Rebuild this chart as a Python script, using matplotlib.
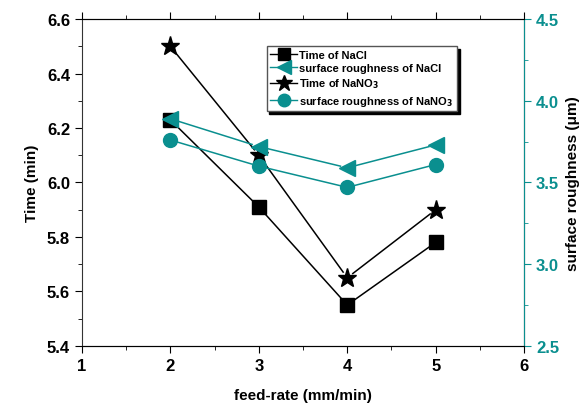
import matplotlib.pyplot as plt
import numpy as np
from matplotlib.lines import Line2D
from matplotlib.ticker import MultipleLocator

plt.rcParams["font.family"] = ["Liberation Sans", "DejaVu Sans"]
plt.rcParams["font.weight"] = "bold"

TEAL = "#0a8f8f"

feed_rate = [2, 3, 4, 5]
time_nacl = [6.23, 5.91, 5.55, 5.78]
time_nano3 = [6.50, 6.10, 5.65, 5.90]
rough_nacl = [3.89, 3.72, 3.59, 3.73]
rough_nano3 = [3.76, 3.60, 3.47, 3.61]

labels = [
    "Time of NaCl",
    "surface roughness of NaCl",
    "Time of NaNO$_3$",
    "surface roughness of NaNO$_3$",
]


def gapped_line(ax, xs, ys, color, gap=7):
    """Draw Origin-style connecting lines that stop short of the markers."""
    to_disp = ax.transData
    to_data = ax.transData.inverted()
    pts = to_disp.transform(np.column_stack([xs, ys]))
    for p0, p1 in zip(pts[:-1], pts[1:]):
        d = p1 - p0
        u = d / np.hypot(*d)
        a = to_data.transform(p0 + u * gap)
        b = to_data.transform(p1 - u * gap)
        ax.plot([a[0], b[0]], [a[1], b[1]], color=color, lw=1.1)


fig = plt.figure(figsize=(5.85, 4.10), dpi=100)
ax = fig.add_axes([0.140, 0.154, 0.756, 0.797])
ax2 = ax.twinx()

ax.set_xlim(1, 6)
ax.set_ylim(5.4, 6.6)
ax2.set_ylim(2.5, 4.5)

ms = 10
gapped_line(ax, feed_rate, time_nacl, "black")
gapped_line(ax, feed_rate, time_nano3, "black")
gapped_line(ax2, feed_rate, rough_nacl, TEAL)
gapped_line(ax2, feed_rate, rough_nano3, TEAL)

ax.plot(feed_rate, time_nacl, ls="none", marker="s", ms=ms, color="black")
ax.plot(feed_rate, time_nano3, ls="none", marker="*", ms=ms + 4, color="black")
ax2.plot(feed_rate, rough_nacl, ls="none", marker="<", ms=ms + 1, color=TEAL)
ax2.plot(feed_rate, rough_nano3, ls="none", marker="o", ms=ms, color=TEAL)

ax.xaxis.set_major_locator(MultipleLocator(1))
ax.xaxis.set_minor_locator(MultipleLocator(0.5))
ax.yaxis.set_major_locator(MultipleLocator(0.2))
ax.yaxis.set_minor_locator(MultipleLocator(0.1))
ax2.yaxis.set_major_locator(MultipleLocator(0.5))
ax2.yaxis.set_minor_locator(MultipleLocator(0.25))

ax.tick_params(axis="both", which="major", direction="out", length=5,
               labelsize=12, top=True)
ax.tick_params(axis="both", which="minor", direction="out", length=3, top=True)
ax2.tick_params(axis="y", which="major", direction="out", length=5,
                labelsize=12, colors=TEAL)
ax2.tick_params(axis="y", which="minor", direction="out", length=3, colors=TEAL)
for lab in ax.get_xticklabels() + ax.get_yticklabels() + ax2.get_yticklabels():
    lab.set_fontweight("bold")

for s in ["left", "top", "bottom"]:
    ax.spines[s].set_color("#333333")
ax2.spines["right"].set_color(TEAL)
ax2.spines["left"].set_visible(False)

ax.set_xlabel("feed-rate (mm/min)", fontsize=11, fontweight="bold", labelpad=11)
ax.set_ylabel("Time (min)", fontsize=11, fontweight="bold", labelpad=6)
ax2.set_ylabel("surface roughness (μm)", fontsize=11, fontweight="bold",
               labelpad=5)

handles = [
    Line2D([], [], color="black", marker="s", ms=9, lw=1),
    Line2D([], [], color=TEAL, marker="<", ms=10, lw=1),
    Line2D([], [], color="black", marker="*", ms=12, lw=1),
    Line2D([], [], color=TEAL, marker="o", ms=9, lw=1),
]
leg = ax.legend(handles, labels, loc="upper left",
                bbox_to_anchor=(0.405, 0.935), prop={"size": 8, "weight": "bold"},
                fancybox=False, edgecolor="#555555", framealpha=1,
                shadow={"color": "black", "alpha": 1}, handlelength=2.4,
                handletextpad=0.2, labelspacing=0.3, borderpad=0.35)
leg.set_zorder(5)

fig.savefig("out.png", dpi=100)
